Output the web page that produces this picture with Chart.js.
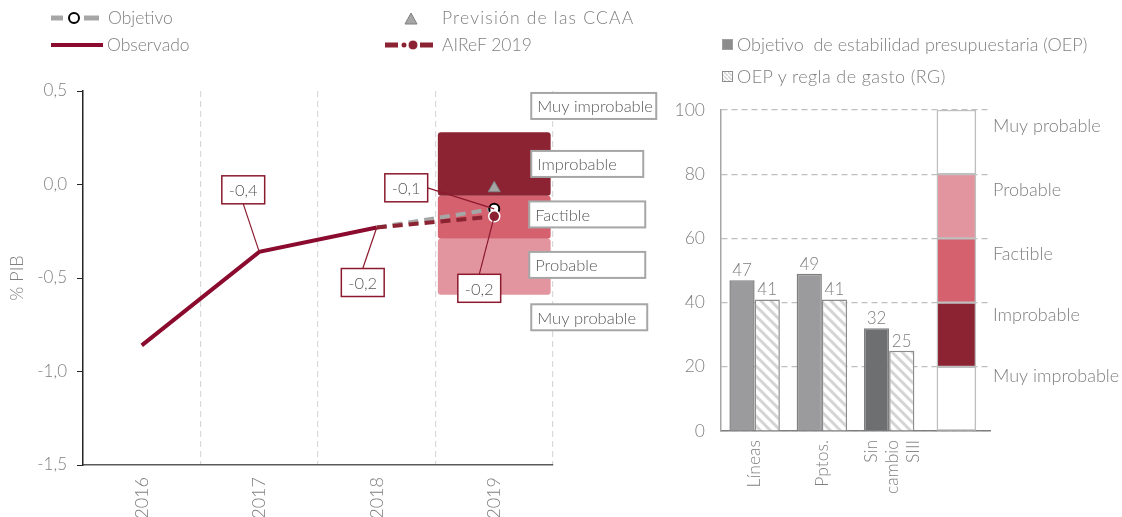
<!DOCTYPE html>
<html><head><meta charset="utf-8">
<script src="https://cdn.jsdelivr.net/npm/chart.js@4.4.1/dist/chart.umd.min.js"></script>
<style>
body{margin:0;width:1122px;height:517px;background:#fff;overflow:hidden;font-family:Lato,'Open Sans',sans-serif;font-weight:300;color:#7f7f7f;position:relative}
#c1{position:absolute;left:0;top:0}
#c2{position:absolute;left:660px;top:0}
.lg{position:absolute;font-size:17.5px;color:#7f7f7f;line-height:20px;white-space:nowrap;font-weight:300}
svg{position:absolute;overflow:visible}
</style></head>
<body>
<canvas id="c1" width="660" height="517"></canvas>
<canvas id="c2" width="462" height="517"></canvas>

<svg style="left:0;top:0" width="1122" height="100">
  <defs>
    <pattern id="hp" patternUnits="userSpaceOnUse" width="4" height="4"><rect width="4" height="4" fill="#fff"/><path d="M-1,-1 L5,5" stroke="#d4d4d4" stroke-width="1.5"/></pattern>
  </defs>
  <line x1="51" y1="18" x2="63" y2="18" stroke="#a6a6a6" stroke-width="5"/>
  <line x1="84" y1="18" x2="99" y2="18" stroke="#a6a6a6" stroke-width="5"/>
  <circle cx="74" cy="18" r="5" fill="#fff" stroke="#000" stroke-width="2"/>
  <line x1="51" y1="45" x2="103" y2="45" stroke="#8b0b2f" stroke-width="4"/>
  <polygon points="411,13 417,24 405,24" fill="#a6a6a6" stroke="#808080" stroke-width="1"/>
  <line x1="385" y1="45" x2="398" y2="45" stroke="#8b2332" stroke-width="5"/>
  <circle cx="404" cy="45" r="2.5" fill="#8b2332"/>
  <circle cx="413" cy="45" r="5" fill="#8b2332" stroke="#fff" stroke-width="1"/>
  <line x1="420" y1="45" x2="433" y2="45" stroke="#8b2332" stroke-width="5"/>
  <rect x="722.5" y="39.5" width="10" height="10" fill="#8c8c8c" stroke="#a0a0a0" stroke-width="1"/>
  <rect x="722.5" y="71.5" width="10" height="10" fill="url(#hp)" stroke="#8c8c8c" stroke-width="1"/>
</svg>
<div class="lg" style="left:108px;top:8px">Objetivo</div>
<div class="lg" style="left:107px;top:35px">Observado</div>
<div class="lg" style="left:442px;top:8px;letter-spacing:1.2px">Previsión de las CCAA</div>
<div class="lg" style="left:442px;top:35px">AIReF 2019</div>
<div class="lg" style="left:737px;top:34px;font-size:18px">Objetivo&nbsp; de estabilidad presupuestaria (OEP)</div>
<div class="lg" style="left:737px;top:66px;font-size:18px;letter-spacing:0.4px">OEP y regla de gasto (RG)</div>

<script>
// ---------- DATA ----------
const years = ['2016', '2017', '2018', '2019'];
const observado = [-0.86, -0.36, -0.23, null];
const objetivo = [null, null, -0.23, -0.13];
const airef = [null, null, -0.23, -0.17];
const prevision = [null, null, null, -0.02];
const bandImprobable = [null, null, null, [-0.06, 0.28]];
const bandFactible = [null, null, null, [-0.29, -0.06]];
const bandProbable = [null, null, null, [-0.59, -0.29]];
const yTicksLeft = [-1.5, -1.0, -0.5, 0.0, 0.5];
const probLabelsLeft = ['Muy improbable', 'Improbable', 'Factible', 'Probable', 'Muy probable'];

const rgCategories = [['Líneas'], ['Pptos.'], ['Sin', 'cambio', 'SIII'], ''];
const oep = [47, 49, 32, null];
const oepRg = [41, 41, 25, null];
const scaleBands = [[0, 20], [20, 40], [40, 60], [60, 80], [80, 100]];
const scaleBandLabels = ['Muy improbable', 'Improbable', 'Factible', 'Probable', 'Muy probable'];
const yTicksRight = [0, 20, 40, 60, 80, 100];

// ---------- STYLE ----------
const FAM = "Lato, 'Open Sans', sans-serif";
Chart.defaults.font.family = FAM;
Chart.defaults.font.size = 16;
Chart.defaults.font.weight = 300;
Chart.defaults.color = '#7f7f7f';
Chart.defaults.animation = false;

const DARK = '#8b2332', MID = '#d5606e', LIGHT = '#e3959f';
const fmt = v => v.toFixed(1).replace('.', ',');

// value annotation placement (pixels relative to the point)
const valueNotes = [
  { ds: 0, i: 1, dx: -16, dy: -62, anchor: 'bottom' },
  { ds: 0, i: 2, dx: -14, dy: 55, anchor: 'top' },
  { ds: 1, i: 3, dx: -88, dy: -21, anchor: 'right' },
  { ds: 2, i: 3, dx: -15, dy: 72, anchor: 'top' }
];
// probability label boxes (y position in axis units, box width)
const probLabelPos = [0.42, 0.11, -0.16, -0.43, -0.71];
const probLabelW = [125, 112, 116, 116, 116];
const probLabelX = [37, 37, 35, 35, 37];

const leftNotes = {
  id: 'leftNotes',
  afterDatasetsDraw(chart) {
    const ctx = chart.ctx, xs = chart.scales.x, ys = chart.scales.y;
    ctx.save();
    ctx.font = "300 16.5px " + FAM;
    ctx.textBaseline = 'middle';
    probLabelsLeft.forEach((t, k) => {
      const x = xs.getPixelForValue(3) + probLabelX[k];
      const y = ys.getPixelForValue(probLabelPos[k]);
      ctx.fillStyle = '#fff';
      ctx.strokeStyle = '#a6a6a6';
      ctx.lineWidth = 2;
      ctx.fillRect(x, y - 13, probLabelW[k], 26);
      ctx.strokeRect(x, y - 13, probLabelW[k], 26);
      ctx.fillStyle = '#595959';
      ctx.textAlign = 'left';
      ctx.fillText(t, x + 6, y + 1);
    });
    ctx.font = "300 16.5px " + FAM;
    valueNotes.forEach(n => {
      const el = chart.getDatasetMeta(n.ds).data[n.i];
      const v = chart.data.datasets[n.ds].data[n.i];
      const txt = fmt(v);
      const w = ctx.measureText(txt).width + 14, h = 28;
      const cx = el.x + n.dx, cy = el.y + n.dy;
      let ax = cx, ay = cy;
      if (n.anchor === 'bottom') ay = cy + h / 2;
      if (n.anchor === 'top') ay = cy - h / 2;
      if (n.anchor === 'right') ax = cx + w / 2;
      ctx.strokeStyle = '#8b1a2e';
      ctx.lineWidth = 1.2;
      ctx.beginPath(); ctx.moveTo(ax, ay); ctx.lineTo(el.x, el.y); ctx.stroke();
      ctx.fillStyle = '#fff';
      ctx.fillRect(cx - w / 2, cy - h / 2, w, h);
      ctx.lineWidth = 1.5;
      ctx.strokeRect(cx - w / 2, cy - h / 2, w, h);
      ctx.fillStyle = '#595959';
      ctx.textAlign = 'center';
      ctx.fillText(txt, cx, cy + 1);
    });
    ctx.restore();
  }
};

const bandDs = (data, color) => ({
  type: 'bar', data, backgroundColor: color, borderWidth: 0, borderRadius: 3, borderSkipped: false,
  grouped: false, barPercentage: 0.96, categoryPercentage: 1, order: 10
});

new Chart(document.getElementById('c1'), {
  type: 'line',
  data: {
    labels: years,
    datasets: [
      { label: 'Observado', data: observado, borderColor: '#8b0b2f', borderWidth: 4, pointRadius: 0, tension: 0, order: 3 },
      { label: 'Objetivo', data: objetivo, borderColor: '#a6a6a6', borderWidth: 4, borderDash: [10, 6], tension: 0,
        pointRadius: [0, 0, 0, 5], pointBackgroundColor: '#fff', pointBorderColor: '#000', pointBorderWidth: 2, order: 2 },
      { label: 'AIReF 2019', data: airef, borderColor: DARK, borderWidth: 4, borderDash: [10, 6], tension: 0,
        pointRadius: [0, 0, 0, 5.5], pointBackgroundColor: DARK, pointBorderColor: '#fff', pointBorderWidth: 1.5, order: 1 },
      { label: 'Previsión de las CCAA', data: prevision, showLine: false, pointStyle: 'triangle', pointRadius: 7,
        pointBackgroundColor: '#a6a6a6', pointBorderColor: '#808080', pointBorderWidth: 1, order: 4 },
      bandDs(bandImprobable, DARK),
      bandDs(bandFactible, MID),
      bandDs(bandProbable, LIGHT)
    ]
  },
  options: {
    responsive: false,
    layout: { padding: { left: 0, top: 91, right: 107, bottom: 0 } },
    plugins: { legend: { display: false }, tooltip: { enabled: false } },
    scales: {
      x: {
        type: 'category', offset: true,
        grid: { offset: true, color: '#d9d9d9', lineWidth: 1.2, drawTicks: false },
        border: { display: true, color: '#595959', width: 1.5, dash: [6, 4] },
        ticks: { minRotation: 90, maxRotation: 90, padding: 12, color: '#7f7f7f', font: { size: 18, weight: 300 } },
        afterFit: s => { s.height = 52; }
      },
      y: {
        min: -1.5, max: 0.5,
        afterBuildTicks: s => { s.ticks = yTicksLeft.map(v => ({ value: v })); },
        grid: { drawOnChartArea: false, drawTicks: true, tickLength: 6, color: '#262626', tickColor: '#262626' },
        border: { display: true, color: '#262626', width: 1.5 },
        ticks: { padding: 10, color: '#7f7f7f', font: { size: 17, weight: 300 }, callback: v => fmt(v) },
        title: { display: true, text: '% PIB', color: '#7f7f7f', font: { size: 18, weight: 300 }, padding: { top: 6, bottom: 0 } },
        afterFit: s => { s.width = 83; }
      }
    }
  },
  plugins: [leftNotes]
});

// ---------- RIGHT CHART ----------
function hatch() {
  const c = document.createElement('canvas'); c.width = c.height = 10;
  const x = c.getContext('2d');
  x.fillStyle = '#fff'; x.fillRect(0, 0, 10, 10);
  x.strokeStyle = '#d4d4d4'; x.lineWidth = 3;
  x.beginPath();
  x.moveTo(-5, -5); x.lineTo(15, 15);
  x.moveTo(-5, 5); x.lineTo(5, 15);
  x.moveTo(5, -5); x.lineTo(15, 5);
  x.stroke();
  return x.createPattern(c, 'repeat');
}
const hatchPattern = hatch();
const bandColors = ['#ffffff', DARK, MID, LIGHT, '#ffffff'];
const scaleLabelPos = [17, 36, 55, 75, 95];

const rightNotes = {
  id: 'rightNotes',
  afterDatasetsDraw(chart) {
    const ctx = chart.ctx, ys = chart.scales.y, xs = chart.scales.x;
    ctx.save();
    ctx.font = "300 17px " + FAM;
    ctx.fillStyle = '#7f7f7f';
    ctx.textAlign = 'center';
    ctx.textBaseline = 'bottom';
    [0, 1].forEach(d => {
      chart.getDatasetMeta(d).data.forEach((el, i) => {
        const v = chart.data.datasets[d].data[i];
        if (v == null) return;
        ctx.fillText(String(v), el.x, el.y - 1);
      });
    });
    ctx.font = "300 18px " + FAM;
    ctx.textAlign = 'left';
    ctx.textBaseline = 'middle';
    scaleBandLabels.forEach((t, k) => {
      ctx.fillText(t, chart.chartArea.right + 3, ys.getPixelForValue(scaleLabelPos[k]));
    });
    // category labels (rotated, multi-line centred on the tick)
    ctx.font = "300 17.5px " + FAM;
    const lh = 21;
    chart.data.labels.forEach((lab, i) => {
      const lines = Array.isArray(lab) ? lab : [lab];
      const x0 = xs.getPixelForValue(i) + 3 - (lines.length - 1) * lh / 2;
      lines.forEach((t, j) => {
        ctx.save();
        ctx.translate((lines.length > 1 ? x0 : x0 - 3) + j * lh, xs.top + 9);
        ctx.rotate(-Math.PI / 2);
        ctx.textAlign = 'right';
        ctx.textBaseline = 'middle';
        ctx.fillText(t, 0, 0);
        ctx.restore();
      });
    });
    ctx.restore();
  }
};

const rightDatasets = [
  { label: 'Objetivo de estabilidad presupuestaria (OEP)', data: oep,
    backgroundColor: ['#9b9b9d', '#9b9b9d', '#6e6f71', '#9b9b9d'], borderColor: '#7f7f7f', borderWidth: 1.5,
    categoryPercentage: 0.75, barPercentage: 1, order: 2 },
  { label: 'OEP y regla de gasto (RG)', data: oepRg,
    backgroundColor: hatchPattern, borderColor: '#8c8c8c', borderWidth: 1.5,
    categoryPercentage: 0.75, barPercentage: 1, order: 2 }
];
scaleBands.forEach((b, k) => {
  rightDatasets.push({
    label: scaleBandLabels[k], data: [null, null, null, b], backgroundColor: bandColors[k],
    borderColor: '#bfbfbf', borderWidth: 1.5, borderSkipped: false, grouped: false, barThickness: 39, order: 1
  });
});

new Chart(document.getElementById('c2'), {
  type: 'bar',
  data: { labels: rgCategories, datasets: rightDatasets },
  options: {
    responsive: false,
    layout: { padding: { left: 0, top: 110, right: 132, bottom: 0 } },
    plugins: { legend: { display: false }, tooltip: { enabled: false } },
    scales: {
      x: {
        offset: true,
        grid: { display: false },
        border: { display: true, color: '#7f7f7f', width: 1.5 },
        ticks: { display: false },
        afterFit: s => { s.height = 86; }
      },
      y: {
        min: 0, max: 100,
        afterBuildTicks: s => { s.ticks = yTicksRight.map(v => ({ value: v })); },
        grid: { color: '#bfbfbf', lineWidth: 1.2, drawTicks: false },
        border: { display: true, color: '#a6a6a6', width: 1.5, dash: [6, 4] },
        ticks: { padding: 16, color: '#7f7f7f', font: { size: 17.5, weight: 300 } },
        afterFit: s => { s.width = 61; }
      }
    }
  },
  plugins: [rightNotes]
});
</script>
</body></html>
